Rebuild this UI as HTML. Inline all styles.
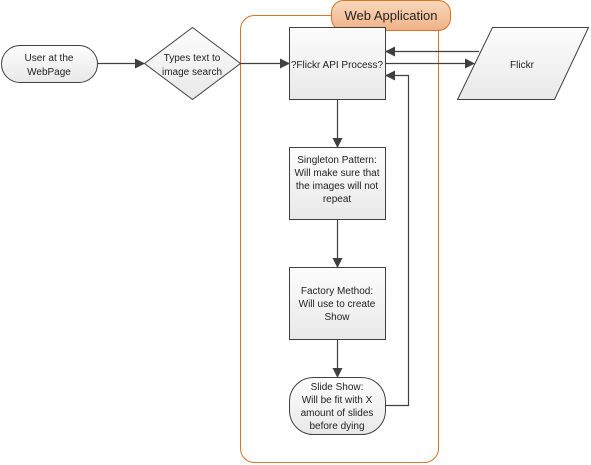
<!DOCTYPE html>
<html><head><meta charset="utf-8"><style>
html,body{margin:0;padding:0;background:#fff;width:591px;height:465px;overflow:hidden}
svg{display:block}
text{font-family:"Liberation Sans",sans-serif;font-size:10px;fill:#222;text-anchor:middle}
</style></head><body>
<svg width="591" height="465" viewBox="0 0 591 465" xmlns="http://www.w3.org/2000/svg">
<defs>
<linearGradient id="g" x1="0" y1="0" x2="0" y2="1"><stop offset="0" stop-color="#fdfdfd"/><stop offset="1" stop-color="#e8e8e8"/></linearGradient>
<linearGradient id="o" x1="0" y1="0" x2="0" y2="1"><stop offset="0" stop-color="#f9d9be"/><stop offset="1" stop-color="#f0b184"/></linearGradient>
<marker id="a" markerWidth="10" markerHeight="10" refX="9" refY="5" orient="auto" markerUnits="userSpaceOnUse"><path d="M0,0 L10,5 L0,10 z" fill="#404040"/></marker>
</defs>
<rect x="240.5" y="15.5" width="198" height="447" rx="14" fill="none" stroke="#d8732a" stroke-width="1"/>
<rect x="331.5" y="0.5" width="119" height="30" rx="12" fill="url(#o)" stroke="#d8732a"/>
<text x="391" y="20" style="font-size:13px">Web Application</text>

<rect x="1.5" y="45.5" width="96" height="37" rx="18.5" fill="url(#g)" stroke="#404040"/>
<text x="49" y="61">User at the</text><text x="49" y="75">WebPage</text>

<polygon points="192.5,27.5 240.5,63.5 192.5,99.5 144.5,63.5" fill="url(#g)" stroke="#404040"/>
<text x="192" y="61">Types text to</text><text x="192" y="75">image search</text>

<rect x="289.5" y="27.5" width="96" height="72" fill="url(#g)" stroke="#404040"/>
<text x="337" y="68">?Flickr API Process?</text>

<polygon points="492.5,27.5 588.5,27.5 554.5,99.5 457.5,99.5" fill="url(#g)" stroke="#404040"/>
<text x="522" y="68">Flickr</text>

<rect x="289.5" y="147.5" width="96" height="72" fill="url(#g)" stroke="#404040"/>
<text x="337" y="163">Singleton Pattern:</text><text x="337" y="176">Will make sure that</text><text x="337" y="189">the images will not</text><text x="337" y="202">repeat</text>

<rect x="289.5" y="267.5" width="96" height="72" fill="url(#g)" stroke="#404040"/>
<text x="337" y="294">Factory Method:</text><text x="337" y="307">Will use to create</text><text x="337" y="320">Show</text>

<rect x="289.5" y="377.5" width="96" height="57" rx="24" fill="url(#g)" stroke="#404040"/>
<text x="337" y="390">Slide Show:</text><text x="337" y="403">Will be fit with X</text><text x="337" y="416">amount of slides</text><text x="337" y="429">before dying</text>

<g stroke="#404040" stroke-width="1.2" fill="none">
<line x1="97.5" y1="63.5" x2="144" y2="63.5" marker-end="url(#a)"/>
<line x1="240.5" y1="63.5" x2="289" y2="63.5" marker-end="url(#a)"/>
<line x1="385.5" y1="63.5" x2="474" y2="63.5" marker-end="url(#a)"/>
<line x1="479" y1="51.5" x2="386" y2="51.5" marker-end="url(#a)"/>
<polyline points="385.5,405.5 408.5,405.5 408.5,75.5 386,75.5" marker-end="url(#a)"/>
<line x1="337.5" y1="99.5" x2="337.5" y2="147" marker-end="url(#a)"/>
<line x1="337.5" y1="219.5" x2="337.5" y2="267" marker-end="url(#a)"/>
<line x1="337.5" y1="339.5" x2="337.5" y2="377" marker-end="url(#a)"/>
</g>
</svg>
</body></html>
